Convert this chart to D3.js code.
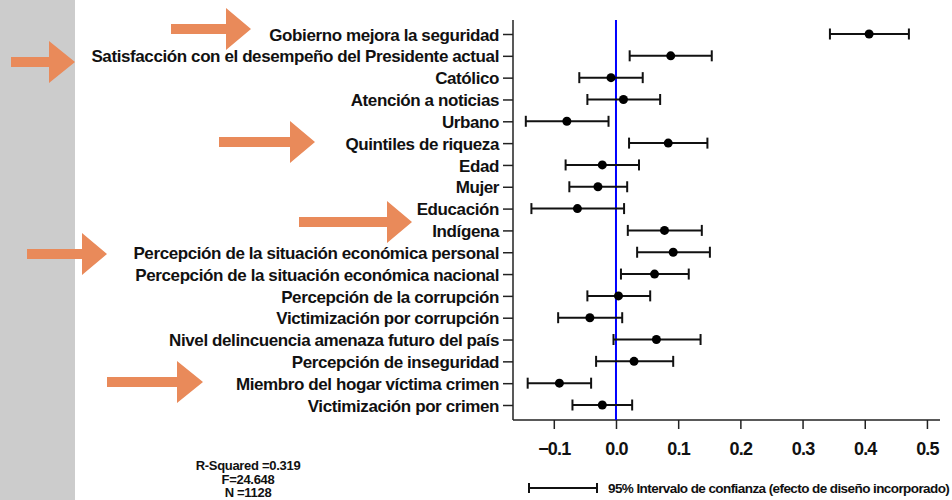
<!DOCTYPE html>
<html><head><meta charset="utf-8">
<script src="https://cdn.jsdelivr.net/npm/d3@7/dist/d3.min.js"></script>
<style>body{margin:0;background:#fff}svg{display:block}text{font-family:"Liberation Sans",Arial,sans-serif;font-weight:bold;fill:#111}</style>
</head><body><svg id="c" width="952" height="500"></svg>
<script>
const categories = [
 "Gobierno mejora la seguridad",
 "Satisfacción con el desempeño del Presidente actual",
 "Católico",
 "Atención a noticias",
 "Urbano",
 "Quintiles de riqueza",
 "Edad",
 "Mujer",
 "Educación",
 "Indígena",
 "Percepción de la situación económica personal",
 "Percepción de la situación económica nacional",
 "Percepción de la corrupción",
 "Victimización por corrupción",
 "Nivel delincuencia amenaza futuro del país",
 "Percepción de inseguridad",
 "Miembro del hogar víctima crimen",
 "Victimización por crimen"
];
const estimates = [0.407,0.088,-0.008,0.012,-0.079,0.084,-0.022,-0.029,-0.062,0.078,0.092,0.062,0.004,-0.042,0.065,0.029,-0.091,-0.022];
const lowerCI   = [0.344,0.022,-0.059,-0.046,-0.145,0.021,-0.081,-0.075,-0.136,0.019,0.034,0.008,-0.046,-0.093,-0.004,-0.032,-0.142,-0.070];
const upperCI   = [0.471,0.154,0.043,0.071,-0.012,0.147,0.037,0.018,0.013,0.138,0.151,0.117,0.055,0.010,0.136,0.092,-0.040,0.026];
const xTicks = [-0.1,0.0,0.1,0.2,0.3,0.4,0.5];
const stats = ["R-Squared =0.319","F=24.648","N =1128"];
const legendText = "95% Intervalo de confianza (efecto de diseño incorporado)";

const svg = d3.select("#c");
const x = d3.scaleLinear().domain([-0.1656,0.521]).range([513,940]);
const y = d3.scalePoint().domain(categories).range([34,405]);

// gray band
svg.append("rect").attr("x",0).attr("y",0).attr("width",75).attr("height",500).attr("fill","#cccccc");

// axes
const ya = svg.append("g").attr("transform","translate(513,0)")
  .call(d3.axisLeft(y).tickSize(10).tickPadding(4));
ya.select(".domain").attr("d","M0,20V420").attr("stroke","#222").attr("stroke-width",1.5);
ya.selectAll(".tick line").attr("stroke","#222").attr("stroke-width",1.5);
ya.selectAll("text").style("font-size","17px").style("letter-spacing","-0.4px").attr("dy","0.36em");

const xa = svg.append("g").attr("transform","translate(0,420)")
  .call(d3.axisBottom(x).tickValues(xTicks).tickFormat(d3.format(".1f")).tickSize(9).tickPadding(13));
xa.select(".domain").attr("d","M513,0H940").attr("stroke","#222").attr("stroke-width",1.5);
xa.selectAll(".tick line").attr("stroke","#222").attr("stroke-width",1.5);
xa.selectAll("text").style("font-size","18px").style("letter-spacing","-0.8px");

// zero line
svg.append("line").attr("x1",x(0)).attr("x2",x(0)).attr("y1",20).attr("y2",420)
  .attr("stroke","#0000ff").attr("stroke-width",2);

// error bars
const g = svg.append("g");
categories.forEach((c,i)=>{
  const yy = y(c);
  g.append("line").attr("x1",x(lowerCI[i])).attr("x2",x(upperCI[i])).attr("y1",yy).attr("y2",yy).attr("stroke","#111").attr("stroke-width",2);
  [lowerCI[i],upperCI[i]].forEach(v=>g.append("line").attr("x1",x(v)).attr("x2",x(v)).attr("y1",yy-5.5).attr("y2",yy+5.5).attr("stroke","#111").attr("stroke-width",2));
  g.append("circle").attr("cx",x(estimates[i])).attr("cy",yy).attr("r",4.5).attr("fill","#000");
});

// arrows (tail x, head base x, tip x)
const arrowGeom = [[171,226,251],[11,49,75],[219,290,315],[299,387,412],[27,82,107],[107,177,203]];
const arrowY = [29,62,142,222,254,382];
arrowGeom.forEach((a,i)=>{
  const cy = arrowY[i];
  svg.append("path").attr("fill","#e98a5a")
    .attr("d",`M${a[0]},${cy-5}H${a[1]}V${cy-21}L${a[2]},${cy}L${a[1]},${cy+21}V${cy+5}H${a[0]}Z`);
});

// stats
svg.append("g").selectAll("text").data(stats).join("text")
  .attr("x",248).attr("y",(d,i)=>470+i*13.5).attr("text-anchor","middle")
  .style("font-size","13px").style("letter-spacing","-0.3px").text(d=>d);

// legend
svg.append("line").attr("x1",529).attr("x2",597).attr("y1",488).attr("y2",488).attr("stroke","#111").attr("stroke-width",2);
[529,597].forEach(v=>svg.append("line").attr("x1",v).attr("x2",v).attr("y1",483).attr("y2",493).attr("stroke","#111").attr("stroke-width",2));
svg.append("text").attr("x",608).attr("y",493).style("font-size","13.5px").style("letter-spacing","-0.58px").text(legendText);
</script></body></html>
